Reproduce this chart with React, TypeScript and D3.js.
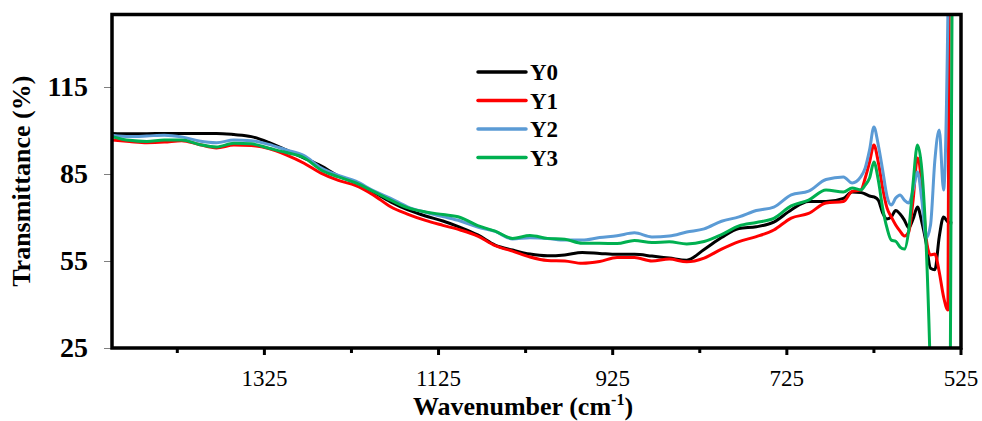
import React, { useRef, useEffect } from 'react';
import * as d3 from 'd3';

// wavenumber grid (cm-1), high to low
const wavenumbers = [
  1500, 1480, 1460, 1440, 1420, 1400, 1380, 1360, 1340, 1320,
  1300, 1280, 1260, 1240, 1220, 1200, 1180, 1160, 1140, 1120,
  1100, 1080, 1060, 1040, 1020, 1000, 980, 960, 940, 920,
  900, 880, 860, 840, 820, 800, 780, 760, 740, 720,
  700, 680, 660, 650, 640,
  635, 630, 625, 620, 615, 610, 605,
  600, 595, 590, 585, 580, 575, 570, 565, 560, 555,
  550, 545, 540, 535,
];

const y0 = [
  99.0, 98.9, 98.9, 99.0, 99.0, 99.0, 99.0, 98.6, 97.9, 95.9,
  93.3, 90.6, 87.8, 84.3, 82.1, 78.8, 75.4, 72.6, 70.5, 68.8,
  66.6, 64.0, 60.5, 58.8, 57.4, 56.8, 57.1, 57.9, 57.6, 57.3,
  57.3, 56.7, 56.0, 55.3, 59.0, 63.1, 66.2, 66.8, 68.4, 72.6,
  75.5, 75.5, 76.6, 78.8, 78.6,
  78.1, 77.4, 77.1, 76.0, 71.6, 69.5, 70.2,
  72.4, 71.2, 69.1, 66.4, 69.5, 73.6, 68.4, 61.2, 52.5, 52.0,
  63.3, 70.2, 68.4, 68.0,
];

const y1 = [
  96.7, 96.2, 95.8, 96.0, 96.5, 95.2, 94.0, 95.0, 94.8, 93.8,
  91.6, 88.8, 85.3, 82.8, 81.0, 77.8, 73.7, 71.1, 69.0, 67.3,
  65.7, 63.6, 60.3, 58.4, 56.4, 55.2, 55.0, 54.2, 54.8, 56.2,
  56.2, 55.0, 55.7, 54.7, 56.0, 59.1, 61.7, 63.4, 65.7, 69.8,
  71.4, 75.0, 75.5, 79.0, 79.5,
  83.6, 89.1, 95.0, 89.1, 80.2, 73.3, 70.2,
  67.4, 65.3, 63.6, 65.0, 76.0, 90.5, 81.2, 62.9, 57.1, 57.4,
  51.2, 42.6, 38.1, 400,
];

const y2 = [
  98.4, 97.9, 98.1, 98.4, 97.8, 96.4, 95.8, 96.7, 96.5, 95.2,
  93.3, 91.4, 87.1, 84.5, 82.5, 79.3, 76.6, 73.6, 71.8, 70.3,
  68.8, 66.7, 65.2, 62.6, 63.0, 62.8, 62.2, 62.2, 63.1, 63.7,
  64.7, 63.3, 63.6, 65.0, 66.1, 68.7, 70.2, 72.4, 73.6, 77.8,
  79.1, 83.1, 84.0, 81.9, 84.1,
  87.1, 93.3, 101.2, 95.0, 86.4, 77.4, 74.3,
  76.7, 77.8, 76.0, 75.0, 79.5, 85.7, 76.0, 62.9, 67.4, 89.8,
  100.2, 79.5, 141.6, 300,
];

const y3 = [
  97.9, 96.6, 96.2, 96.7, 96.7, 95.2, 94.3, 95.6, 95.4, 93.9,
  92.4, 90.7, 86.4, 84.0, 81.9, 79.0, 76.0, 73.3, 71.9, 71.0,
  70.0, 67.2, 65.3, 62.8, 63.8, 62.8, 62.5, 61.1, 61.1, 61.0,
  62.1, 61.4, 61.6, 60.9, 61.7, 64.1, 67.1, 68.3, 69.7, 74.0,
  76.0, 79.5, 78.8, 80.2, 79.5,
  81.2, 83.6, 89.1, 82.9, 73.3, 66.4, 62.2,
  61.8, 59.8, 59.1, 65.7, 81.9, 95.0, 86.4, 60.5, 14.0, -60,
  -120, -120, -150, 160,
];

const seriesNames = ['Y0', 'Y1', 'Y2', 'Y3'];
const seriesValues = [y0, y1, y2, y3];
const seriesColors = ['#000000', '#FF0000', '#5B9BD5', '#00B050'];

const yTicks = [25, 55, 85, 115];
const xMajorTicks = [1325, 1125, 925, 725, 525];
const xMinorTicks = [1425, 1225, 1025, 825, 625];

const FONT = '"Liberation Serif", "Times New Roman", serif';

const App = () => {
  const chartRef = useRef<SVGSVGElement>(null);

  useEffect(() => {
    if (!chartRef.current) return;
    const svg = d3.select(chartRef.current);
    svg.selectAll('*').remove();

    const width = 982;
    const height = 421;
    const margin = { top: 14.5, right: 21, bottom: 73, left: 112 };

    const x = d3.scaleLinear()
      .domain([1500, 525])
      .range([margin.left, width - margin.right]);

    const y = d3.scaleLinear()
      .domain([25, 140])
      .range([height - margin.bottom, margin.top]);

    const plotW = width - margin.right - margin.left;
    const plotH = height - margin.bottom - margin.top;

    svg.append('defs').append('clipPath')
      .attr('id', 'plot-clip')
      .append('rect')
      .attr('x', margin.left)
      .attr('y', margin.top)
      .attr('width', plotW)
      .attr('height', plotH);

    // y axis ticks + labels
    const yAxis = svg.append('g')
      .attr('transform', `translate(${margin.left},0)`)
      .call(d3.axisLeft(y).tickValues(yTicks).tickSize(8).tickPadding(16).tickFormat(d3.format('d')));
    yAxis.select('.domain').remove();
    yAxis.selectAll('.tick line').attr('stroke', '#7f7f7f').attr('stroke-width', 1);
    yAxis.selectAll('.tick text')
      .attr('fill', '#000')
      .style('font-family', FONT)
      .style('font-size', '28px')
      .style('font-weight', 'bold');

    // x axis ticks (major + minor) below the frame
    const baseY = height - margin.bottom;
    svg.append('g')
      .selectAll('line')
      .data(xMajorTicks)
      .join('line')
      .attr('x1', d => x(d))
      .attr('x2', d => x(d))
      .attr('y1', baseY)
      .attr('y2', baseY + 7)
      .attr('stroke', '#000')
      .attr('stroke-width', 3);

    svg.append('g')
      .selectAll('line')
      .data(xMinorTicks)
      .join('line')
      .attr('x1', d => x(d))
      .attr('x2', d => x(d))
      .attr('y1', baseY)
      .attr('y2', baseY + 5)
      .attr('stroke', '#000')
      .attr('stroke-width', 3);

    svg.append('g')
      .selectAll('text')
      .data(xMajorTicks)
      .join('text')
      .attr('x', d => x(d))
      .attr('y', 386)
      .attr('text-anchor', 'middle')
      .style('font-family', FONT)
      .style('font-size', '23px')
      .text(d => d);

    // series
    const line = d3.line<[number, number]>()
      .x(d => x(d[0]))
      .y(d => y(d[1]))
      .curve(d3.curveMonotoneX);

    const lines = svg.append('g').attr('clip-path', 'url(#plot-clip)');
    seriesValues.forEach((vals, i) => {
      const pts: [number, number][] = wavenumbers.map((w, k) => [w, vals[k]]);
      lines.append('path')
        .datum(pts)
        .attr('fill', 'none')
        .attr('stroke', seriesColors[i])
        .attr('stroke-width', 3)
        .attr('stroke-linejoin', 'round')
        .attr('d', line);
    });

    // frame
    svg.append('rect')
      .attr('x', margin.left)
      .attr('y', margin.top)
      .attr('width', plotW)
      .attr('height', plotH)
      .attr('fill', 'none')
      .attr('stroke', '#000')
      .attr('stroke-width', 3.5);

    // axis titles
    svg.append('text')
      .attr('transform', `translate(30,${(margin.top + baseY) / 2}) rotate(-90)`)
      .attr('text-anchor', 'middle')
      .style('font-family', FONT)
      .style('font-size', '26px')
      .style('font-weight', 'bold')
      .text('Transmittance (%)');

    const xTitle = svg.append('text')
      .attr('x', 523)
      .attr('y', 415)
      .attr('text-anchor', 'middle')
      .style('font-family', FONT)
      .style('font-size', '26px')
      .style('font-weight', 'bold');
    xTitle.append('tspan').text('Wavenumber (cm');
    xTitle.append('tspan').attr('dy', -10).style('font-size', '16px').text('-1');
    xTitle.append('tspan').attr('dy', 10).text(')');

    // legend
    const legendSpacing = 28.5;
    const legend = svg.append('g').attr('transform', 'translate(478,72)');
    seriesNames.forEach((name, i) => {
      const item = legend.append('g').attr('transform', `translate(0,${i * legendSpacing})`);
      item.append('line')
        .attr('x1', 0)
        .attr('x2', 48)
        .attr('stroke', seriesColors[i])
        .attr('stroke-width', 3.5)
        .attr('stroke-linecap', 'round');
      item.append('text')
        .attr('x', 52)
        .attr('y', 8)
        .style('font-family', FONT)
        .style('font-size', '23px')
        .style('font-weight', 'bold')
        .text(name);
    });
  }, []);

  return (
    <svg
      ref={chartRef}
      width={982}
      height={421}
      style={{ position: 'absolute', left: 0, top: 0, background: '#fff' }}
    />
  );
};

export default App;
